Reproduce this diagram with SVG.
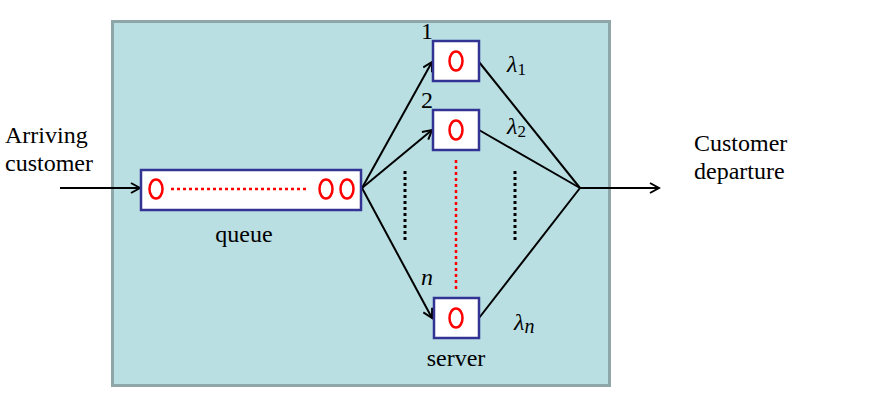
<svg xmlns="http://www.w3.org/2000/svg" width="880" height="402" viewBox="0 0 880 402">
<defs>
<marker id="arr" markerWidth="12" markerHeight="12" refX="10" refY="6" orient="auto" markerUnits="userSpaceOnUse">
<path d="M1,1 L10,6 L1,11" fill="none" stroke="#000" stroke-width="2"/>
</marker>
<style>
.t{font-family:"Liberation Serif","Times New Roman",serif;font-size:24px;fill:#000}
.m{font-family:"Liberation Serif","Times New Roman",serif;font-style:italic;font-size:24px;fill:#000}
.sub{font-size:17px;font-style:normal}
.box{fill:#fff;stroke:#333393;stroke-width:2.5}
.o{fill:none;stroke:#f00;stroke-width:2.5}
.ln{stroke:#000;stroke-width:2;fill:none}
</style>
</defs>
<rect width="880" height="402" fill="#fff"/>
<g id="system">
<rect x="112.5" y="21.5" width="497" height="364" fill="#b9dfe3" stroke="#8fa6a9" stroke-width="3"/>
</g>
<g id="connectors">
<line class="ln" x1="60" y1="188" x2="140" y2="188" marker-end="url(#arr)"/>
<line class="ln" x1="362" y1="188" x2="432" y2="62" marker-end="url(#arr)"/>
<line class="ln" x1="362" y1="188" x2="432" y2="130" marker-end="url(#arr)"/>
<line class="ln" x1="362" y1="188" x2="432" y2="318" marker-end="url(#arr)"/>
<line class="ln" x1="479" y1="62" x2="580" y2="188"/>
<line class="ln" x1="479" y1="130" x2="580" y2="188"/>
<line class="ln" x1="479" y1="318" x2="580" y2="188"/>
<line class="ln" x1="580" y1="188" x2="659" y2="188" marker-end="url(#arr)"/>
<line x1="405" y1="171" x2="405" y2="240" stroke="#000" stroke-width="3" stroke-dasharray="3,3"/>
<line x1="515" y1="171" x2="515" y2="240" stroke="#000" stroke-width="3" stroke-dasharray="3,3"/>
<line x1="456" y1="160" x2="456" y2="290" stroke="#f00" stroke-width="2.5" stroke-dasharray="3,3"/>
</g>
<g id="queue">
<rect class="box" x="141" y="170" width="220" height="40"/>
<ellipse class="o" cx="156" cy="189" rx="6.5" ry="9.5"/>
<line x1="171" y1="189" x2="308" y2="189" stroke="#f00" stroke-width="2.5" stroke-dasharray="3,3"/>
<ellipse class="o" cx="326" cy="189" rx="6.5" ry="9.5"/>
<ellipse class="o" cx="347" cy="189" rx="6.5" ry="9.5"/>
<text class="t" x="244" y="242" text-anchor="middle">queue</text>
</g>
<g id="server1">
<rect class="box" x="433" y="41" width="46" height="40"/>
<ellipse class="o" cx="456" cy="61" rx="6.5" ry="9.5"/>
<text class="t" x="427" y="39" text-anchor="middle">1</text>
<text class="m" x="507" y="72">λ<tspan class="sub" dy="3">1</tspan></text>
</g>
<g id="server2">
<rect class="box" x="433" y="110" width="46" height="40"/>
<ellipse class="o" cx="456" cy="130" rx="6.5" ry="9.5"/>
<text class="t" x="427" y="108" text-anchor="middle">2</text>
<text class="m" x="507" y="134">λ<tspan class="sub" dy="3">2</tspan></text>
</g>
<g id="servern">
<rect class="box" x="434" y="298" width="45" height="40"/>
<ellipse class="o" cx="456" cy="318" rx="6.5" ry="9.5"/>
<text class="m" x="427" y="285" text-anchor="middle">n</text>
<text class="m" x="514" y="330">λ<tspan class="sub" style="font-style:italic;font-size:20px" dy="3">n</tspan></text>
<text class="t" x="456" y="366" text-anchor="middle">server</text>
</g>
<g id="labels">
<text class="t" x="5" y="143">Arriving</text>
<text class="t" x="5" y="171">customer</text>
<text class="t" x="694" y="151">Customer</text>
<text class="t" x="694" y="179">departure</text>
</g>
</svg>
